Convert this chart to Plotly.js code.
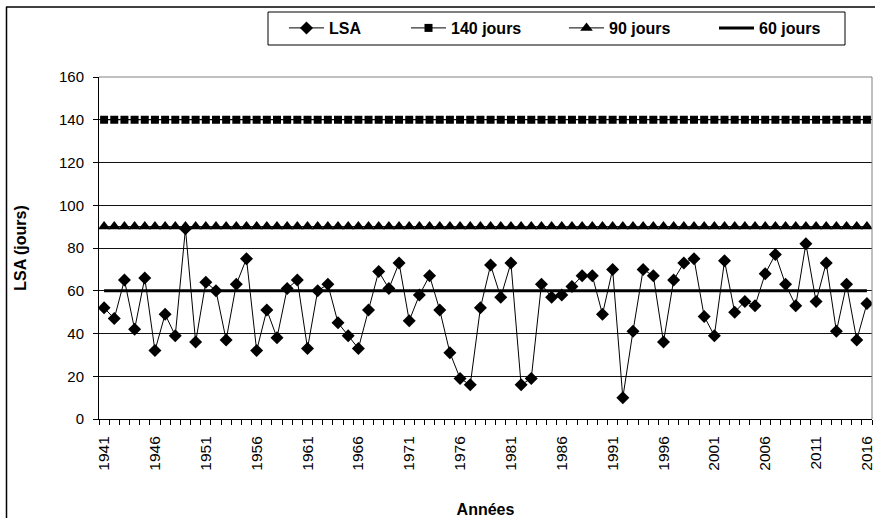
<!DOCTYPE html>
<html>
<head>
<meta charset="utf-8">
<script src="https://cdn.plot.ly/plotly-3.0.1.min.js"></script>
<style>html,body{margin:0;padding:0;background:#fff;}#chart{width:875px;height:518px;}</style>
</head>
<body>
<div id="chart"></div>
<script>
const years = [1941,1942,1943,1944,1945,1946,1947,1948,1949,1950,1951,1952,1953,1954,1955,1956,1957,1958,1959,1960,1961,1962,1963,1964,1965,1966,1967,1968,1969,1970,1971,1972,1973,1974,1975,1976,1977,1978,1979,1980,1981,1982,1983,1984,1985,1986,1987,1988,1989,1990,1991,1992,1993,1994,1995,1996,1997,1998,1999,2000,2001,2002,2003,2004,2005,2006,2007,2008,2009,2010,2011,2012,2013,2014,2015,2016];
const lsa = [52,47,65,42,66,32,49,39,89,36,64,60,37,63,75,32,51,38,61,65,33,60,63,45,39,33,51,69,61,73,46,58,67,51,31,19,16,52,72,57,73,16,19,63,57,58,62,67,67,49,70,10,41,70,67,36,65,73,75,48,39,74,50,55,53,68,77,63,53,82,55,73,41,63,37,54];
const seuil140 = 140;
const seuil90 = 90;
const seuil60 = 60;
const tickLabels = ['1941','1946','1951','1956','1961','1966','1971','1976','1981','1986','1991','1996','2001','2006','2011','2016'];
const yTicks = [0,20,40,60,80,100,120,140,160];

const FONT = 'Liberation Sans, Arial, sans-serif';
const L = 99, R = 872, T = 77, B = 419, W = 875, H = 518;
const px = p => (p - L) / (R - L);
const py = p => (B - p) / (B - T);

const traces = [
  {x: years, y: lsa, name: 'LSA', mode: 'lines+markers', legend: 'legend',
   line: {color: '#000', width: 1}, marker: {symbol: 'diamond', size: 10, color: '#000'}},
  {x: years, y: years.map(() => seuil140), name: '140 jours', mode: 'lines+markers', legend: 'legend2',
   line: {color: '#000', width: 1}, marker: {symbol: 'square', size: 8, color: '#000'}},
  {x: years, y: years.map(() => seuil90), name: '90 jours', mode: 'lines+markers', legend: 'legend3',
   line: {color: '#000', width: 1}, marker: {symbol: 'triangle-up', size: 11, color: '#000'}},
  {x: years, y: years.map(() => seuil60), name: '60 jours', mode: 'lines', legend: 'legend4',
   line: {color: '#000', width: 3}}
];

const legBase = {orientation: 'h', xanchor: 'left', yanchor: 'middle', y: py(28),
  font: {family: FONT, size: 16, color: '#000', weight: 'bold'}, bgcolor: 'rgba(0,0,0,0)',
  borderwidth: 0, itemwidth: 35, itemclick: false, itemdoubleclick: false};

const layout = {
  width: W, height: H,
  margin: {l: L, r: W - R, t: T, b: H - B},
  paper_bgcolor: '#fff', plot_bgcolor: '#fff',
  font: {family: FONT, size: 15, color: '#000'},
  showlegend: true,
  legend: Object.assign({}, legBase, {x: px(284)}),
  legend2: Object.assign({}, legBase, {x: px(406)}),
  legend3: Object.assign({}, legBase, {x: px(564)}),
  legend4: Object.assign({}, legBase, {x: px(714)}),
  xaxis: {
    type: 'linear', range: [1940.5, 2016.5], fixedrange: true,
    tickmode: 'array', tickvals: tickLabels.map(Number), ticktext: tickLabels,
    ticks: '', tickangle: -90, tickfont: {family: FONT, size: 15.5, color: '#000'},
    ticklabelstandoff: 10,
    minor: {ticks: 'outside', ticklen: 5, tickcolor: '#000', tickwidth: 1, tick0: 1940.5, dtick: 1, showgrid: false},
    showgrid: false, zeroline: false, showline: true, linecolor: '#000', linewidth: 1,
    title: {text: 'Années', font: {family: FONT, size: 16, color: '#000', weight: 'bold'}, standoff: 35}
  },
  yaxis: {
    range: [0, 160], fixedrange: true, tickmode: 'array', tickvals: yTicks,
    ticks: 'outside', ticklen: 5, tickcolor: '#000', tickwidth: 1,
    tickfont: {family: FONT, size: 15, color: '#000'}, ticklabelstandoff: 6,
    showgrid: true, gridcolor: '#111', gridwidth: 1, zeroline: false,
    showline: true, linecolor: '#000', linewidth: 1,
    title: {text: 'LSA (jours)', font: {family: FONT, size: 16, color: '#000', weight: 'bold'}, standoff: 28}
  },
  shapes: [
    {type: 'line', xref: 'paper', yref: 'paper', x0: 0, x1: 1, y0: 1, y1: 1, line: {color: '#808080', width: 1}},
    {type: 'line', xref: 'paper', yref: 'paper', x0: 1, x1: 1, y0: 0, y1: 1, line: {color: '#808080', width: 1}},
    {type: 'rect', xref: 'paper', yref: 'paper', x0: px(268), x1: px(845), y0: py(12), y1: py(45), line: {color: '#000', width: 1}},
    {type: 'line', xref: 'paper', yref: 'paper', x0: px(6.5), x1: px(6.5), y0: py(7), y1: py(530), line: {color: '#000', width: 1.5}},
    {type: 'line', xref: 'paper', yref: 'paper', x0: px(6), x1: px(880), y0: py(7), y1: py(7), line: {color: '#000', width: 1.5}}
  ]
};

Plotly.newPlot('chart', traces, layout, {displayModeBar: false, staticPlot: true});
</script>
</body>
</html>
